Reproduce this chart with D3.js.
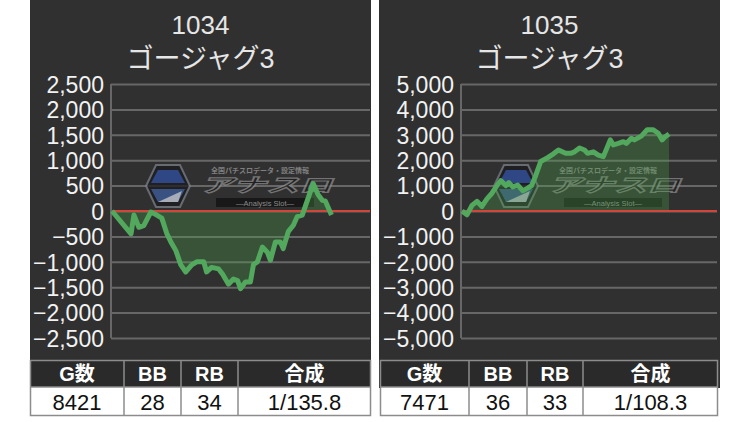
<!DOCTYPE html>
<html><head><meta charset="utf-8">
<script src="https://cdn.jsdelivr.net/npm/d3@7"></script>
<style>
html,body{margin:0;padding:0;background:#fff;}
svg{display:block;}
</style></head>
<body>
<svg id="c" width="750" height="422"></svg>
<script>
// ---- data ----
const machineIds = ["1034", "1035"];
const machineNames = ["ゴージャグ3", "ゴージャグ3"];
const yTicksLeft = [2500, 2000, 1500, 1000, 500, 0, -500, -1000, -1500, -2000, -2500];
const yTicksRight = [5000, 4000, 3000, 2000, 1000, 0, -1000, -2000, -3000, -4000, -5000];
const xMaxLeft = 9900;
const xMaxRight = 9200;
const gamesLeft = [0, 730, 840, 1030, 1220, 1490, 1720, 1910, 2100, 2260, 2450, 2640, 2830, 3060, 3250, 3520, 3630, 3820, 4090, 4240, 4470, 4660, 4820, 4930, 5120, 5310, 5430, 5580, 5770, 5960, 6080, 6270, 6460, 6570, 6770, 6960, 7110, 7300, 7720, 7910, 8070, 8180, 8421];
const diffLeft = [0, -450, -80, -320, -290, -20, -80, -140, -440, -610, -780, -1060, -1200, -1060, -1000, -1000, -1200, -1110, -1140, -1240, -1440, -1340, -1370, -1530, -1400, -1400, -1050, -1000, -710, -810, -970, -610, -610, -740, -400, -280, -110, -80, 540, 320, 210, 200, -80];
const gamesRight = [0, 180, 360, 540, 720, 900, 1080, 1260, 1400, 1580, 1690, 1830, 2010, 2190, 2370, 2510, 2660, 2840, 3090, 3300, 3480, 3740, 3920, 4060, 4240, 4420, 4530, 4740, 4920, 5100, 5350, 5460, 5640, 5820, 5930, 6110, 6220, 6470, 6680, 6900, 7080, 7220, 7330, 7471];
const diffRight = [0, -150, 220, 380, 180, 480, 700, 1000, 1200, 1000, 1120, 950, 1020, 800, 900, 1000, 1400, 1950, 2100, 2250, 2400, 2270, 2270, 2330, 2480, 2400, 2270, 2330, 2200, 2140, 2800, 2600, 2660, 2730, 2660, 2860, 2800, 2950, 3200, 3200, 3060, 2800, 2920, 3030];
const tableHeaders = ["G数", "BB", "RB", "合成"];
const tableLeft = ["8421", "28", "34", "1/135.8"];
const tableRight = ["7471", "36", "33", "1/108.3"];

const panels = [
  {x0: 30, x1: 371, axisX: 111, plotR: 370, ticks: yTicksLeft, yMax: 2500, xMax: xMaxLeft,
   games: gamesLeft, diff: diffLeft, id: machineIds[0], name: machineNames[0], row: tableLeft,
   cols: [30, 124, 181, 238, 371]},
  {x0: 379, x1: 720, axisX: 461, plotR: 717, ticks: yTicksRight, yMax: 5000, xMax: xMaxRight,
   games: gamesRight, diff: diffRight, id: machineIds[1], name: machineNames[1], row: tableRight,
   cols: [380, 469, 527, 583, 718]}
];

const svg = d3.select("#c");
const fmt = d3.format(",");
const FONT = "'Liberation Sans', Arial, 'Noto Sans CJK JP', sans-serif";
const JFONT = "'Liberation Sans', 'Noto Sans CJK JP', sans-serif";

panels.forEach((p, pi) => {
  const g = svg.append("g");
  // panel background
  g.append("rect").attr("x", p.x0).attr("y", 0).attr("width", p.x1 - p.x0).attr("height", 388).attr("fill", "#303030");

  const cx = (p.x0 + p.x1) / 2;
  g.append("text").attr("x", cx).attr("y", 34).attr("text-anchor", "middle")
    .attr("fill", "#e6e6e6").attr("font-family", FONT).attr("font-size", 26).text(p.id);
  g.append("text").attr("x", cx).attr("y", 68).attr("text-anchor", "middle")
    .attr("fill", "#e6e6e6").attr("font-family", JFONT).attr("font-size", 27).text(p.name);

  const y = d3.scaleLinear().domain([-p.yMax, p.yMax]).range([338, 84]);
  const x = d3.scaleLinear().domain([0, p.xMax]).range([p.axisX + 1, p.plotR]);

  // gridlines
  const grid = d3.axisLeft(y).tickValues(p.ticks).tickSize(-(p.plotR - p.axisX)).tickFormat("");
  const gg = g.append("g").attr("transform", `translate(${p.axisX},0)`).call(grid);
  gg.select(".domain").remove();
  gg.selectAll(".tick line").attr("stroke", "#676767").attr("stroke-width", 2);

  // axis vertical line
  g.append("line").attr("x1", p.axisX).attr("x2", p.axisX).attr("y1", 84).attr("y2", 338)
    .attr("stroke", "#676767").attr("stroke-width", 2);

  // tick labels
  const ax = d3.axisLeft(y).tickValues(p.ticks).tickSize(0).tickPadding(7).tickFormat(fmt);
  const ag = g.append("g").attr("transform", `translate(${p.axisX},0)`).call(ax);
  ag.select(".domain").remove();
  ag.selectAll("text").attr("fill", "#f2f2f2").attr("font-family", FONT).attr("font-size", 23)
    .attr("dy", "0.36em");

  // watermark
  const wm = g.append("g").attr("opacity", 0.75);
  const hx = pi === 0 ? 168 : 516, hy = 186;
  const hex = (w, h) => `M${-w/2},0 L${-w/2+10},${-h/2} L${w/2-10},${-h/2} L${w/2},0 L${w/2-10},${h/2} L${-w/2+10},${h/2} Z`;
  wm.append("path").attr("d", hex(44, 42)).attr("transform", `translate(${hx},${hy})`)
    .attr("fill", "#1b1b1f").attr("stroke", "#7a7f88").attr("stroke-width", 2);
  wm.append("path").attr("d", `M${-17},-3 L${-10},-16 L${10},-16 L${17},-3 Z`).attr("transform", `translate(${hx},${hy})`)
    .attr("fill", "#2f4fa0");
  wm.append("path").attr("d", `M${-17},3 L${17},3 L${10},16 L${-10},16 Z`).attr("transform", `translate(${hx},${hy})`)
    .attr("fill", "#3d5e9e");
  wm.append("path").attr("d", `M${-10},16 L${14},5 L${10},16 Z`).attr("transform", `translate(${hx},${hy})`)
    .attr("fill", "#cfd6e6");
  const tx = hx + 30;
  wm.append("text").attr("x", tx + 62).attr("y", 173).attr("text-anchor", "middle")
    .attr("fill", "#9a9a9a").attr("font-family", JFONT).attr("font-size", 7).attr("font-weight", "bold")
    .text("全国パチスロデータ・設定情報");
  wm.append("text").attr("x", tx + 2).attr("y", 192)
    .attr("fill", "#1c1c1c").attr("stroke", "#8a8a8a").attr("stroke-width", 1.2)
    .attr("font-family", JFONT).attr("font-size", 19).attr("font-weight", "bold").attr("font-style", "italic")
    .attr("textLength", 132).attr("lengthAdjust", "spacingAndGlyphs")
    .text("アナスロ");
  wm.append("rect").attr("x", tx + 18).attr("y", 198).attr("width", 98).attr("height", 9).attr("fill", "#111");
  wm.append("text").attr("x", tx + 67).attr("y", 205.5).attr("text-anchor", "middle")
    .attr("fill", "#a8a8a8").attr("font-family", FONT).attr("font-size", 7.5).text("—Analysis Slot—");

  // area
  const pts = p.games.map((d, i) => [d, p.diff[i]]);
  const area = d3.area().x(d => x(d[0])).y0(y(0)).y1(d => y(d[1]));
  g.append("path").datum(pts).attr("d", area).attr("fill", "rgba(76,160,70,0.32)");

  // zero line
  g.append("line").attr("x1", p.axisX + 1).attr("x2", p.plotR).attr("y1", y(0)).attr("y2", y(0))
    .attr("stroke", "#d2453a").attr("stroke-width", 2);

  // line
  const line = d3.line().x(d => x(d[0])).y(d => y(d[1]));
  g.append("path").datum(pts).attr("d", line).attr("fill", "none")
    .attr("stroke", "#52a85d").attr("stroke-width", 5).attr("stroke-linejoin", "round");

  // table
  const c = p.cols;
  const t = svg.append("g");
  t.append("rect").attr("x", c[0]).attr("y", 360).attr("width", c[4] - c[0]).attr("height", 27).attr("fill", "#2a2a2a");
  t.append("rect").attr("x", c[0]).attr("y", 387).attr("width", c[4] - c[0]).attr("height", 29).attr("fill", "#ffffff");
  t.append("rect").attr("x", c[0] + 0.5).attr("y", 360.5).attr("width", c[4] - c[0] - 1).attr("height", 55)
    .attr("fill", "none").attr("stroke", "#8c8c8c").attr("stroke-width", 1.5);
  t.append("line").attr("x1", c[0]).attr("x2", c[4]).attr("y1", 387).attr("y2", 387)
    .attr("stroke", "#8c8c8c").attr("stroke-width", 1.5);
  for (let k = 1; k < 4; k++) {
    t.append("line").attr("x1", c[k]).attr("x2", c[k]).attr("y1", 360).attr("y2", 416)
      .attr("stroke", "#8c8c8c").attr("stroke-width", 1.5);
  }
  tableHeaders.forEach((h, k) => {
    t.append("text").attr("x", (c[k] + c[k + 1]) / 2).attr("y", 381).attr("text-anchor", "middle")
      .attr("fill", "#ffffff").attr("font-family", JFONT).attr("font-size", 20).attr("font-weight", "bold").text(h);
    t.append("text").attr("x", (c[k] + c[k + 1]) / 2).attr("y", 410).attr("text-anchor", "middle")
      .attr("fill", "#111").attr("font-family", FONT).attr("font-size", 22).text(p.row[k]);
  });
});
</script>
</body></html>
